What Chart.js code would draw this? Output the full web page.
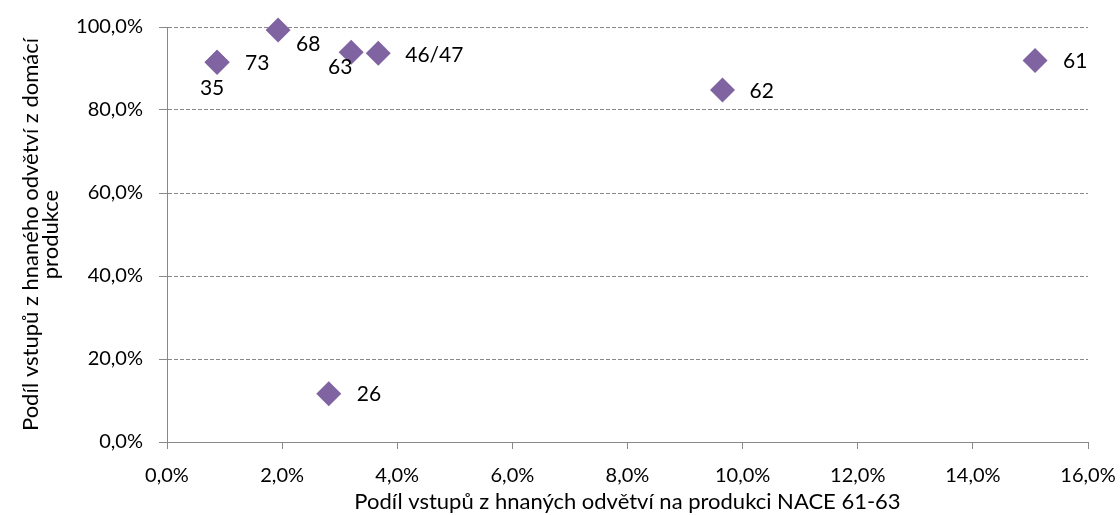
<!DOCTYPE html>
<html>
<head>
<meta charset="utf-8">
<title>Podíl vstupů z hnaných odvětví</title>
<script src="https://cdn.jsdelivr.net/npm/chart.js@4/dist/chart.umd.min.js"></script>
<style>
  html, body { margin: 0; padding: 0; background: #fff; }
  #wrap { width: 1120px; height: 515px; position: relative; }
</style>
</head>
<body>
<div id="wrap"><canvas id="chart" width="1120" height="515"></canvas></div>
<script>
// NACE divisions and their shares (in %)
const sectors = ['35', '73', '68', '63', '46/47', '62', '61', '26'];
const inputShare = [0.87, 0.87, 1.93, 3.20, 3.67, 9.65, 15.08, 2.81];     // x: share of inputs in NACE 61-63 output
const domesticShare = [91.5, 91.5, 99.3, 93.9, 93.7, 84.8, 91.9, 11.6];  // y: share of domestic production
const xTicks = [0, 2, 4, 6, 8, 10, 12, 14, 16];
const yTicks = [0, 20, 40, 60, 80, 100];

// where each sector label sits relative to its marker
const labelPlacement = {
  '35': { dx: -5, dy: 26, align: 'center' },
  '73': { dx: 28, dy: 1, align: 'left' },
  '68': { dx: 18, dy: 14, align: 'left' },
  '63': { dx: -11, dy: 15, align: 'center' },
  '46/47': { dx: 27, dy: 2, align: 'left' },
  '62': { dx: 27, dy: 1, align: 'left' },
  '61': { dx: 28, dy: 1, align: 'left' },
  '26': { dx: 28, dy: 0, align: 'left' }
};

const FONT = 'Lato';
const TICK_SIZE = 20;
const TITLE_SIZE = 22;
const LABEL_SIZE = 21;
const AXIS_GREY = '#888888';

const fmtPct = v => v.toFixed(1).replace('.', ',') + '%';

const sectorLabels = {
  id: 'sectorLabels',
  afterDatasetsDraw(chart) {
    const { ctx, scales: { x, y } } = chart;
    ctx.save();
    ctx.font = LABEL_SIZE + 'px ' + FONT;
    ctx.fillStyle = '#000';
    ctx.textBaseline = 'middle';
    sectors.forEach((name, i) => {
      const p = labelPlacement[name];
      const px = x.getPixelForValue(inputShare[i]);
      const py = y.getPixelForValue(domesticShare[i]);
      ctx.textAlign = p.align;
      ctx.fillText(name, px + p.dx, py + p.dy);
    });
    ctx.restore();
  }
};

new Chart(document.getElementById('chart'), {
  type: 'scatter',
  data: {
    datasets: [{
      data: sectors.map((s, i) => ({ x: inputShare[i], y: domesticShare[i] })),
      pointStyle: 'rectRot',
      pointRadius: 12.5,
      pointHoverRadius: 12.5,
      backgroundColor: '#8064A2',
      borderColor: '#8064A2',
      borderWidth: 0,
      clip: false
    }]
  },
  options: {
    responsive: false,
    animation: false,
    layout: { padding: { left: 0, right: 32, top: 27, bottom: 0 } },
    plugins: {
      legend: { display: false },
      tooltip: { enabled: false }
    },
    scales: {
      x: {
        type: 'linear',
        min: 0,
        max: 16,
        afterBuildTicks: s => { s.ticks = xTicks.map(v => ({ value: v })); },
        afterFit: s => { s.height = 73; s.paddingLeft = 0; s.paddingRight = 0; },
        ticks: {
          callback: v => fmtPct(v),
          color: '#000',
          font: { family: FONT, size: TICK_SIZE },
          padding: 15,
          maxRotation: 0
        },
        grid: {
          drawOnChartArea: false,
          drawTicks: true,
          tickLength: 7,
          color: AXIS_GREY,
          tickColor: AXIS_GREY
        },
        border: { color: AXIS_GREY, width: 1 },
        title: {
          display: true,
          text: 'Podíl vstupů z hnaných odvětví na produkci NACE 61-63',
          color: '#000',
          font: { family: FONT, size: TITLE_SIZE },
          padding: { top: 0, bottom: 0 }
        }
      },
      y: {
        type: 'linear',
        min: 0,
        max: 100,
        afterBuildTicks: s => { s.ticks = yTicks.map(v => ({ value: v })); },
        afterFit: s => { s.width = 167; s.paddingTop = 0; s.paddingBottom = 0; },
        ticks: {
          callback: v => fmtPct(v),
          color: '#000',
          font: { family: FONT, size: TICK_SIZE },
          padding: 16
        },
        grid: {
          drawOnChartArea: true,
          drawTicks: true,
          tickLength: 8,
          color: AXIS_GREY,
          tickColor: AXIS_GREY,
          tickBorderDash: []
        },
        border: { color: AXIS_GREY, width: 1, dash: [4, 2] },
        title: {
          display: true,
          text: ['Podíl vstupů z hnaného odvětví z domácí', 'produkce'],
          color: '#000',
          font: { family: FONT, size: TITLE_SIZE, lineHeight: 0.95 },
          padding: { top: 20, bottom: 0 }
        }
      }
    }
  },
  plugins: [sectorLabels]
});
</script>
</body>
</html>
